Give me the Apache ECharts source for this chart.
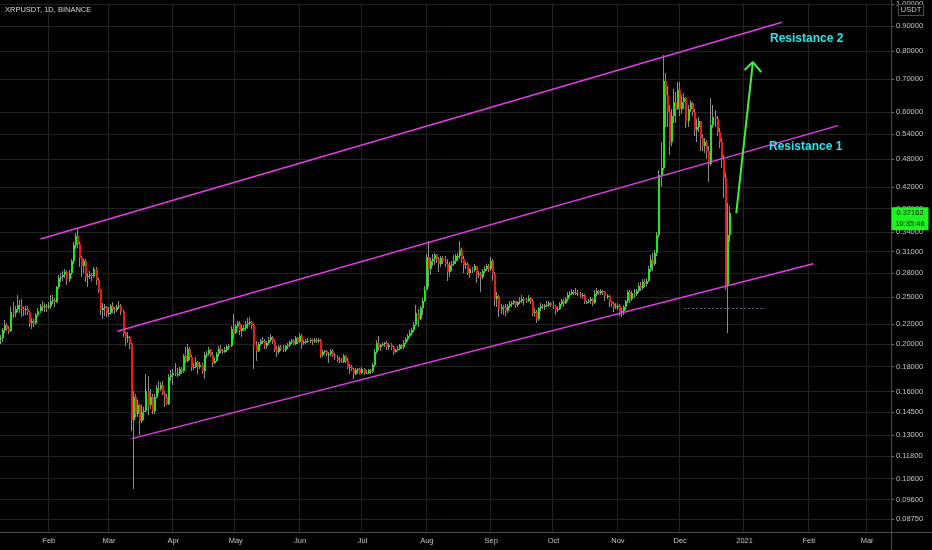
<!DOCTYPE html>
<html>
<head>
<meta charset="utf-8">
<script src="https://cdn.jsdelivr.net/npm/echarts@6/dist/echarts.min.js"></script>
<style>
html,body{margin:0;padding:0;background:#000;}
#chart{width:932px;height:550px;}
</style>
</head>
<body>
<div id="chart"></div>
<script>
// ---------------- DATA ----------------
const symbolTitle = 'XRPUSDT, 1D, BINANCE';
const quoteCurrency = 'USDT';
const countdownText = '10:35:46';
const startYear = 2020, startMonth = 0, startDay = 9;   // first candle: 2020-01-09
const categoryCount = 429;                               // daily slots shown on the time axis
const monthNames = ['Jan','Feb','Mar','Apr','May','Jun','Jul','Aug','Sep','Oct','Nov','Dec'];
const firstOpen = 0.2050;

const closes = [
// Jan 9 - 31
0.2060,0.2140,0.2190,0.2150,0.2130,0.2330,0.2320,0.2360,0.2410,0.2400,0.2360,0.2350,0.2360,0.2330,0.2210,0.2230,0.2210,0.2300,0.2340,0.2400,0.2380,0.2400,0.2380,
// Feb
0.2400,0.2450,0.2470,0.2440,0.2620,0.2730,0.2750,0.2770,0.2810,0.2720,0.2800,0.2960,0.3200,0.3340,0.3220,0.3010,0.2890,0.2960,0.2750,0.2760,0.2780,0.2760,0.2860,0.2710,0.2580,0.2350,0.2370,0.2380,0.2320,
// Mar
0.2320,0.2400,0.2360,0.2350,0.2390,0.2400,0.2340,0.2100,0.2060,0.2070,0.2000,0.1400,0.1560,0.1440,0.1500,0.1390,0.1450,0.1460,0.1600,0.1500,0.1560,0.1460,0.1560,0.1630,0.1620,0.1650,0.1590,0.1560,0.1510,0.1710,0.1730,
// Apr
0.1750,0.1740,0.1740,0.1780,0.1760,0.1890,0.1850,0.1960,0.1880,0.1800,0.1800,0.1840,0.1800,0.1810,0.1760,0.1900,0.1910,0.1950,0.1900,0.1830,0.1850,0.1910,0.1960,0.1940,0.1930,0.1950,0.1970,0.1980,0.2150,0.2110,
// May
0.2180,0.2210,0.2130,0.2160,0.2160,0.2200,0.2210,0.2220,0.2190,0.1990,0.1940,0.2000,0.2030,0.2030,0.1980,0.2010,0.2040,0.2070,0.2030,0.1960,0.1930,0.1970,0.1960,0.1950,0.1980,0.1990,0.2020,0.2030,0.2000,0.2060,0.2020,
// Jun
0.2080,0.2010,0.2020,0.2030,0.2030,0.2040,0.2030,0.2040,0.2030,0.2040,0.1900,0.1930,0.1940,0.1910,0.1910,0.1940,0.1900,0.1880,0.1860,0.1850,0.1840,0.1890,0.1850,0.1800,0.1800,0.1780,0.1740,0.1770,0.1780,0.1750,
// Jul
0.1780,0.1750,0.1750,0.1770,0.1760,0.1810,0.1930,0.2010,0.1970,0.1990,0.2000,0.2010,0.1970,0.1990,0.1970,0.1930,0.1950,0.1960,0.1990,0.1970,0.2010,0.2050,0.2080,0.2110,0.2140,0.2190,0.2320,0.2250,0.2370,0.2460,0.2590,
// Aug
0.3020,0.2850,0.2970,0.2990,0.3050,0.2990,0.2920,0.3010,0.2960,0.2930,0.2820,0.2910,0.2930,0.2970,0.3030,0.3040,0.3120,0.3000,0.2910,0.2920,0.2800,0.2850,0.2840,0.2890,0.2780,0.2790,0.2750,0.2830,0.2860,0.2900,0.2860,
// Sep
0.2970,0.2790,0.2480,0.2510,0.2360,0.2390,0.2380,0.2340,0.2400,0.2420,0.2430,0.2450,0.2410,0.2440,0.2460,0.2480,0.2470,0.2460,0.2490,0.2460,0.2320,0.2330,0.2250,0.2370,0.2400,0.2390,0.2400,0.2410,0.2430,0.2410,
// Oct
0.2400,0.2350,0.2360,0.2420,0.2460,0.2430,0.2480,0.2530,0.2540,0.2560,0.2550,0.2550,0.2540,0.2520,0.2520,0.2440,0.2440,0.2460,0.2480,0.2430,0.2540,0.2570,0.2550,0.2570,0.2560,0.2510,0.2510,0.2440,0.2420,0.2390,0.2400,
// Nov
0.2400,0.2330,0.2340,0.2380,0.2450,0.2560,0.2480,0.2550,0.2540,0.2570,0.2630,0.2610,0.2680,0.2660,0.2700,0.2850,0.2980,0.2930,0.3080,0.3350,0.4450,0.4600,0.6950,0.6500,0.6000,0.5200,0.5900,0.6300,0.6100,0.6650,
// Dec 1 - 25
0.6100,0.6300,0.6400,0.5750,0.6100,0.6250,0.6000,0.5500,0.5600,0.5750,0.5300,0.5100,0.5200,0.5000,0.4700,0.5650,0.5850,0.5800,0.5450,0.5200,0.4800,0.4400,0.2650,0.3350,0.37162
];

const highs = [
0.2090,0.2160,0.2240,0.2210,0.2180,0.2380,0.2440,0.2400,0.2530,0.2470,0.2480,0.2390,0.2400,0.2400,0.2340,0.2260,0.2250,0.2320,0.2370,0.2420,0.2450,0.2430,0.2420,
0.2440,0.2520,0.2530,0.2490,0.2640,0.2780,0.2800,0.2830,0.2850,0.2840,0.2840,0.3000,0.3240,0.3380,0.3450,0.3240,0.3030,0.3000,0.3000,0.2800,0.2830,0.2800,0.2880,0.2880,0.2730,0.2600,0.2430,0.2420,0.2400,
0.2380,0.2420,0.2440,0.2390,0.2410,0.2460,0.2420,0.2350,0.2120,0.2120,0.2080,0.2010,0.1600,0.1580,0.1540,0.1510,0.1500,0.1490,0.1740,0.1720,0.1620,0.1580,0.1580,0.1650,0.1680,0.1670,0.1680,0.1600,0.1580,0.1740,0.1770,
0.1780,0.1830,0.1790,0.1800,0.1800,0.1910,0.1970,0.2000,0.1970,0.1900,0.1830,0.1880,0.1850,0.1840,0.1830,0.1930,0.1940,0.1970,0.1960,0.1930,0.1880,0.1930,0.1980,0.1990,0.1960,0.1970,0.1990,0.2000,0.2180,0.2310,
0.2200,0.2230,0.2230,0.2190,0.2190,0.2230,0.2260,0.2270,0.2230,0.2200,0.2030,0.2020,0.2050,0.2070,0.2050,0.2030,0.2070,0.2100,0.2080,0.2040,0.1980,0.1990,0.1990,0.1990,0.1990,0.2010,0.2030,0.2050,0.2050,0.2080,0.2070,
0.2110,0.2100,0.2040,0.2050,0.2060,0.2060,0.2050,0.2060,0.2060,0.2060,0.2050,0.1950,0.1950,0.1950,0.1930,0.1960,0.1960,0.1920,0.1900,0.1880,0.1870,0.1910,0.1900,0.1870,0.1820,0.1810,0.1790,0.1790,0.1790,0.1790,
0.1800,0.1790,0.1770,0.1780,0.1780,0.1830,0.1960,0.2040,0.2080,0.2000,0.2020,0.2020,0.2030,0.2010,0.2010,0.1980,0.1960,0.1980,0.2000,0.2000,0.2040,0.2070,0.2100,0.2140,0.2160,0.2220,0.2410,0.2360,0.2400,0.2490,0.2640,
0.3070,0.3260,0.3010,0.3060,0.3080,0.3060,0.3020,0.3030,0.3030,0.3040,0.2990,0.2950,0.2960,0.3050,0.3060,0.3080,0.3260,0.3150,0.3030,0.2950,0.2950,0.2870,0.2880,0.2920,0.2900,0.2830,0.2820,0.2860,0.2890,0.2930,0.2920,
0.3020,0.2990,0.2820,0.2560,0.2530,0.2420,0.2410,0.2420,0.2420,0.2460,0.2450,0.2470,0.2460,0.2460,0.2500,0.2520,0.2500,0.2490,0.2530,0.2500,0.2480,0.2370,0.2350,0.2390,0.2430,0.2420,0.2420,0.2450,0.2450,0.2440,
0.2450,0.2410,0.2380,0.2440,0.2480,0.2480,0.2500,0.2560,0.2570,0.2600,0.2580,0.2610,0.2580,0.2560,0.2550,0.2540,0.2460,0.2480,0.2500,0.2490,0.2590,0.2610,0.2590,0.2600,0.2590,0.2570,0.2540,0.2530,0.2460,0.2440,0.2430,
0.2430,0.2420,0.2370,0.2410,0.2470,0.2590,0.2590,0.2570,0.2600,0.2600,0.2670,0.2680,0.2720,0.2720,0.2740,0.2900,0.3050,0.3080,0.3130,0.3400,0.4550,0.5200,0.7850,0.7200,0.6800,0.6200,0.6100,0.6700,0.6600,0.6900,
0.6900,0.6500,0.6550,0.6450,0.6200,0.6350,0.6300,0.6100,0.5800,0.5850,0.5750,0.5400,0.5300,0.5250,0.5100,0.6400,0.6200,0.6050,0.5900,0.5550,0.5300,0.4900,0.4500,0.3900,0.3850
];

const lows = [
0.2000,0.2020,0.2110,0.2130,0.2100,0.2120,0.2260,0.2270,0.2330,0.2320,0.2280,0.2290,0.2300,0.2300,0.2170,0.2150,0.2170,0.2190,0.2280,0.2320,0.2340,0.2330,0.2330,
0.2360,0.2360,0.2420,0.2390,0.2430,0.2600,0.2690,0.2700,0.2730,0.2650,0.2680,0.2780,0.2920,0.3140,0.3150,0.2880,0.2750,0.2800,0.2680,0.2620,0.2720,0.2700,0.2740,0.2650,0.2550,0.2300,0.2250,0.2290,0.2280,
0.2270,0.2300,0.2320,0.2310,0.2330,0.2360,0.2300,0.2070,0.1980,0.2010,0.1960,0.1330,0.1010,0.1420,0.1420,0.1300,0.1380,0.1400,0.1450,0.1430,0.1470,0.1440,0.1440,0.1550,0.1590,0.1600,0.1570,0.1490,0.1500,0.1500,0.1680,
0.1650,0.1720,0.1710,0.1720,0.1740,0.1750,0.1830,0.1840,0.1860,0.1760,0.1770,0.1790,0.1740,0.1780,0.1740,0.1700,0.1870,0.1890,0.1880,0.1800,0.1820,0.1840,0.1880,0.1920,0.1910,0.1920,0.1930,0.1950,0.1970,0.2050,
0.2100,0.2160,0.2090,0.2070,0.2130,0.2130,0.2150,0.2180,0.2150,0.1780,0.1850,0.1930,0.1980,0.2000,0.1960,0.1960,0.1990,0.2020,0.2000,0.1930,0.1880,0.1910,0.1940,0.1930,0.1930,0.1960,0.1970,0.2000,0.1990,0.1990,0.2000,
0.2010,0.1960,0.1990,0.2000,0.2010,0.2010,0.1990,0.2010,0.2010,0.2010,0.1870,0.1880,0.1910,0.1890,0.1830,0.1890,0.1880,0.1860,0.1840,0.1830,0.1830,0.1830,0.1830,0.1780,0.1740,0.1760,0.1700,0.1730,0.1750,0.1740,
0.1740,0.1730,0.1740,0.1740,0.1740,0.1750,0.1800,0.1910,0.1950,0.1940,0.1980,0.1970,0.1950,0.1950,0.1950,0.1900,0.1920,0.1940,0.1950,0.1960,0.1960,0.2000,0.2030,0.2070,0.2090,0.2120,0.2180,0.2170,0.2240,0.2300,0.2440,
0.2590,0.2620,0.2780,0.2900,0.2910,0.2940,0.2820,0.2880,0.2920,0.2880,0.2700,0.2750,0.2830,0.2900,0.2930,0.2960,0.3000,0.2940,0.2800,0.2850,0.2770,0.2730,0.2800,0.2820,0.2670,0.2740,0.2560,0.2720,0.2800,0.2830,0.2820,
0.2830,0.2700,0.2400,0.2380,0.2270,0.2310,0.2300,0.2290,0.2320,0.2370,0.2390,0.2410,0.2370,0.2380,0.2420,0.2430,0.2410,0.2430,0.2440,0.2420,0.2290,0.2280,0.2210,0.2230,0.2340,0.2360,0.2350,0.2380,0.2380,0.2390,
0.2360,0.2300,0.2330,0.2350,0.2400,0.2390,0.2420,0.2460,0.2500,0.2520,0.2530,0.2520,0.2510,0.2490,0.2480,0.2420,0.2420,0.2430,0.2420,0.2400,0.2420,0.2510,0.2520,0.2530,0.2520,0.2460,0.2480,0.2390,0.2380,0.2330,0.2360,
0.2350,0.2290,0.2280,0.2300,0.2350,0.2430,0.2430,0.2460,0.2490,0.2510,0.2550,0.2570,0.2590,0.2620,0.2620,0.2680,0.2820,0.2830,0.2900,0.3040,0.3300,0.4200,0.4550,0.5600,0.5600,0.4900,0.5100,0.5700,0.5700,0.6050,
0.5900,0.5950,0.6100,0.5550,0.5600,0.6000,0.5900,0.5350,0.5200,0.5450,0.5000,0.5000,0.4950,0.4800,0.4300,0.4650,0.5550,0.5600,0.5350,0.5050,0.4600,0.4000,0.2580,0.2110,0.3250
];

// right price-scale tick values (log scale)
const priceTicks = [1.0,0.9,0.8,0.7,0.6,0.54,0.48,0.42,0.38,0.34,0.31,0.28,0.25,0.22,0.20,0.18,0.16,0.145,0.13,0.118,0.106,0.096,0.0875];
const priceMin = 0.0823, priceMax = 1.0027;

// drawn annotations (date, price)
const channelTopDates = ['2020-01-28','2021-01-19'],  channelTopPrices = [0.329, 0.917];
const channelMidDates = ['2020-03-05','2021-02-15'],  channelMidPrices = [0.2127, 0.5625];
const channelLowDates = ['2020-03-12','2021-02-03'],  channelLowPrices = [0.128, 0.2927];
const arrowShaftDates = ['2020-12-28','2021-01-05'],  arrowShaftPrices = [0.372, 0.760];
const arrowHeadDates  = ['2021-01-01','2021-01-05','2021-01-09'], arrowHeadPrices = [0.732, 0.760, 0.725];
const supportDotDates = ['2020-12-03','2021-01-11'],  supportDotPrices = [0.2369, 0.2369];
const resistanceLabels = ['Resistance 2','Resistance 1'];

// ---------------- BUILD ----------------
function pad(n){return (n<10?'0':'')+n;}
const categories = [];
for (let i = 0; i < categoryCount; i++) {
  const d = new Date(Date.UTC(startYear, startMonth, startDay + i));
  categories.push(d.getUTCFullYear() + '-' + pad(d.getUTCMonth()+1) + '-' + pad(d.getUTCDate()));
}
const L = Math.log;
const opens = closes.map((c, i) => i === 0 ? firstOpen : closes[i-1]);
const candleData = closes.map((c, i) => [i, L(opens[i]), L(c), L(lows[i]), L(highs[i])]);
const pairs = (ds, ps) => ds.map((d, i) => [d, L(ps[i])]);

const isMonthStart = (idx, val) => val.slice(8) === '01';
const FONT = '"Liberation Sans", Arial, sans-serif';
const MAGENTA = '#e23de6';
const ARROW = '#3cf23c';
const UP = '#1ee81e', DOWN = '#f51616', WICK = '#8c8c8c';

function renderCandle(params, api) {
  const idx = api.value(0);
  const o = api.value(1), c = api.value(2), lo = api.value(3), hi = api.value(4);
  const pO = api.coord([idx, o]), pC = api.coord([idx, c]);
  const pL = api.coord([idx, lo]), pH = api.coord([idx, hi]);
  const cx = Math.round(pO[0]);
  const yH = Math.round(pH[1]), yL = Math.round(pL[1]);
  let yT = Math.round(Math.min(pO[1], pC[1])), yB = Math.round(Math.max(pO[1], pC[1]));
  if (yB - yT < 1) yB = yT + 1;
  return {
    type: 'group',
    children: [
      {type: 'rect', shape: {x: cx - 1, y: yH, width: 1, height: Math.max(1, yL - yH)}, style: {fill: WICK}},
      {type: 'rect', shape: {x: cx - 1, y: yT, width: 2, height: yB - yT}, style: {fill: c >= o ? UP : DOWN}}
    ]
  };
}

const chart = echarts.init(document.getElementById('chart'), null, {renderer: 'canvas'});

const option = {
  backgroundColor: '#000000',
  animation: false,
  grid: {left: -1, right: 41, top: 0, bottom: 18, containLabel: false},
  xAxis: {
    type: 'category',
    data: categories,
    boundaryGap: true,
    axisLine: {show: false},
    axisTick: {show: false},
    axisLabel: {
      interval: isMonthStart,
      margin: 5,
      color: '#c4c4c4',
      fontSize: 7.5,
      fontFamily: FONT,
      formatter: v => { const p = v.split('-'); return p[1] === '01' ? p[0] : monthNames[+p[1]-1]; }
    },
    splitLine: {show: true, interval: isMonthStart, lineStyle: {color: '#222222', width: 1}}
  },
  yAxis: {
    type: 'value',
    position: 'right',
    min: L(priceMin),
    max: L(priceMax),
    axisLine: {show: false},
    axisTick: {show: true, length: 3, lineStyle: {color: '#6a6a6a'}, customValues: priceTicks.map(L)},
    axisLabel: {
      margin: 5,
      color: '#c4c4c4',
      fontSize: 7.5,
      fontFamily: FONT,
      customValues: priceTicks.map(L),
      formatter: v => Math.exp(v).toFixed(5)
    },
    splitLine: {show: true, lineStyle: {color: '#222222', width: 1}}
  },
  series: [
    {
      name: 'XRPUSDT', type: 'custom', data: candleData, renderItem: renderCandle,
      encode: {x: 0, y: [1, 2, 3, 4]}, silent: true, z: 3
    },
    {type: 'line', data: pairs(channelTopDates, channelTopPrices), showSymbol: false, silent: true, z: 5, lineStyle: {color: MAGENTA, width: 1.5}},
    {type: 'line', data: pairs(channelMidDates, channelMidPrices), showSymbol: false, silent: true, z: 5, lineStyle: {color: MAGENTA, width: 1.5}},
    {type: 'line', data: pairs(channelLowDates, channelLowPrices), showSymbol: false, silent: true, z: 5, lineStyle: {color: MAGENTA, width: 1.5}},
    {type: 'line', data: pairs(supportDotDates, supportDotPrices), showSymbol: false, silent: true, z: 5, lineStyle: {color: '#5d6d92', width: 1, type: [2, 2]}},
    {type: 'line', data: pairs(arrowShaftDates, arrowShaftPrices), showSymbol: false, silent: true, z: 6, lineStyle: {color: ARROW, width: 2}},
    {type: 'line', data: pairs(arrowHeadDates, arrowHeadPrices), showSymbol: false, silent: true, z: 6, lineStyle: {color: ARROW, width: 2}}
  ]
};
chart.setOption(option);

// overlay: separators, title, labels, last price box
const lastClose = closes[closes.length - 1];
const yLast = chart.convertToPixel({yAxisIndex: 0}, L(lastClose));
const axisX = 891.5, axisY = 532.5;
chart.setOption({
  graphic: [
    {type: 'line', shape: {x1: 0, y1: axisY, x2: 932, y2: axisY}, style: {stroke: '#4a4a4a', lineWidth: 1}, z: 10},
    {type: 'line', shape: {x1: axisX, y1: 0, x2: axisX, y2: 550}, style: {stroke: '#4a4a4a', lineWidth: 1}, z: 10},
    {type: 'text', x: 5, y: 10, style: {text: symbolTitle, fill: '#d6d6d6', fontSize: 7.5, fontFamily: FONT, verticalAlign: 'middle'}, z: 10},
    {type: 'rect', shape: {x: 898.5, y: 4.5, width: 25, height: 11}, style: {fill: '#000', stroke: '#4a4a4a', lineWidth: 1}, z: 10},
    {type: 'text', x: 911, y: 10, style: {text: quoteCurrency, fill: '#c8c8c8', fontSize: 7.5, fontFamily: FONT, align: 'center', verticalAlign: 'middle'}, z: 11},
    {type: 'rect', shape: {x: axisX, y: yLast - 6, width: 37, height: 23}, style: {fill: '#1ef51e'}, z: 12},
    {type: 'text', x: 910, y: yLast, style: {text: lastClose.toFixed(5), fill: '#0a0a0a', fontSize: 7.5, fontFamily: FONT, align: 'center', verticalAlign: 'middle'}, z: 13},
    {type: 'text', x: 910, y: yLast + 11, style: {text: countdownText, fill: '#0a0a0a', fontSize: 7.5, fontFamily: FONT, align: 'center', verticalAlign: 'middle'}, z: 13},
    {type: 'text', x: 770, y: 39, style: {text: resistanceLabels[0], fill: '#2fe0ea', fontSize: 12, fontWeight: 'bold', fontFamily: FONT, verticalAlign: 'middle'}, z: 10},
    {type: 'text', x: 769, y: 147, style: {text: resistanceLabels[1], fill: '#2fe0ea', fontSize: 12, fontWeight: 'bold', fontFamily: FONT, verticalAlign: 'middle'}, z: 10}
  ]
});
</script>
</body>
</html>
